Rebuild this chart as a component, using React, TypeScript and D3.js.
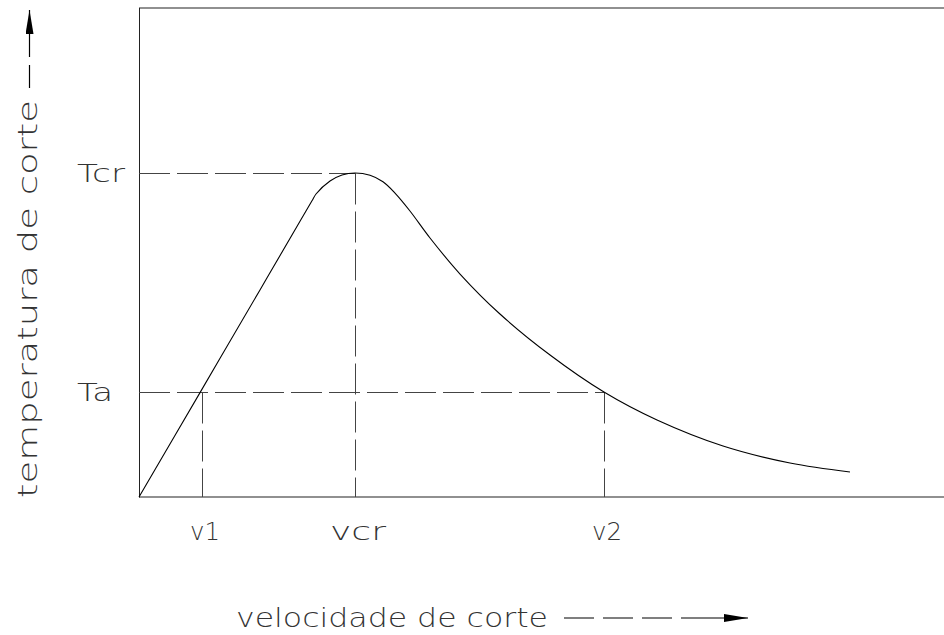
import React, { useEffect, useRef } from 'react';
import * as d3 from 'd3';

// curve points (velocity %, temperature %)
const velocity = [0, 7.58, 15.03, 20.0, 21.49, 21.99, 23.73, 25.22, 26.83, 28.7, 30.31, 31.8, 33.66, 36.15, 39.88, 44.84, 51.06, 57.76, 64.35, 72.55, 80.87, 88.32];
const temperature = [0, 21.35, 42.35, 56.38, 60.57, 61.96, 64.62, 65.85, 66.26, 65.79, 64.46, 62.15, 58.49, 52.97, 45.6, 37.42, 29.04, 21.47, 15.75, 10.43, 6.95, 5.11];

// reference marks
const vLabels = ['v1', 'vcr', 'v2'];
const vValues = [7.83, 26.83, 57.76];
const tLabels = ['Tcr', 'Ta'];
const tValues = [66.26, 21.47];

const xTitle = 'velocidade de corte';
const yTitle = 'temperatura de corte';

const FONT = '"DejaVu Sans", sans-serif';

const App = () => {
  const svgRef = useRef<SVGSVGElement>(null);

  useEffect(() => {
    const width = 944;
    const height = 635;
    const svg = d3.select(svgRef.current);
    svg.selectAll('*').remove();
    svg.attr('width', width).attr('height', height);

    const x = d3.scaleLinear().domain([0, 100]).range([139, 944]);
    const y = d3.scaleLinear().domain([0, 100]).range([497, 8]);

    const defs = svg.append('defs');
    defs.append('marker')
      .attr('id', 'head')
      .attr('viewBox', '0 0 24 8')
      .attr('refX', 24)
      .attr('refY', 4)
      .attr('markerWidth', 24)
      .attr('markerHeight', 8)
      .attr('markerUnits', 'userSpaceOnUse')
      .attr('orient', 'auto')
      .append('path')
      .attr('d', 'M0,0 L24,4 L0,8 Z')
      .attr('fill', '#000');

    // frame: left, bottom, top (right side open)
    svg.append('line')
      .attr('x1', x(0) + 0.5).attr('x2', x(0) + 0.5)
      .attr('y1', y(100)).attr('y2', y(0) + 0.5)
      .attr('stroke', '#222').attr('stroke-width', 1);
    svg.append('line')
      .attr('x1', x(0)).attr('x2', x(100))
      .attr('y1', y(0)).attr('y2', y(0))
      .attr('stroke', '#222').attr('stroke-width', 1.2);
    svg.append('line')
      .attr('x1', x(0)).attr('x2', x(100))
      .attr('y1', y(100)).attr('y2', y(100))
      .attr('stroke', '#222').attr('stroke-width', 1.2);

    // dashed guides
    const dash = '31 7';
    const vx = vValues.map(v => Math.round(x(v)) + 0.5);
    const ty = tValues.map(t => Math.round(y(t)) + 0.5);
    const guides = [
      [x(0), ty[0], vx[1], ty[0]],
      [x(0), ty[1], vx[2], ty[1]],
      [vx[1], ty[0], vx[1], y(0)],
      [vx[0], ty[1], vx[0], y(0)],
      [vx[2], ty[1], vx[2], y(0)],
    ];
    guides.forEach(([x1, y1, x2, y2]) => {
      svg.append('line')
        .attr('x1', x1).attr('y1', y1).attr('x2', x2).attr('y2', y2)
        .attr('stroke', '#444')
        .attr('stroke-width', 1)
        .attr('stroke-dasharray', dash);
    });

    // curve
    const pts = velocity.map((v, i) => [v, temperature[i]] as [number, number]);
    const line = d3.line<[number, number]>()
      .x(d => x(d[0]))
      .y(d => y(d[1]))
      .curve(d3.curveCatmullRom.alpha(0.5));
    svg.append('path')
      .datum(pts)
      .attr('fill', 'none')
      .attr('stroke', '#000')
      .attr('stroke-width', 1.1)
      .attr('d', line);

    // text style
    const txt = (sel: any) => sel
      .style('font-family', FONT)
      .style('font-weight', 200)
      .attr('fill', '#333');

    tLabels.forEach((t, i) => {
      svg.append('text')
        .attr('x', 77)
        .attr('y', y(tValues[i]) + 9)
        .attr('font-size', 25)
        .attr('textLength', t.length === 3 ? 48 : 36)
        .attr('lengthAdjust', 'spacingAndGlyphs')
        .text(t)
        .call(txt);
    });

    vLabels.forEach((v, i) => {
      svg.append('text')
        .attr('x', x(vValues[i]) + 3)
        .attr('y', 540)
        .attr('text-anchor', 'middle')
        .attr('font-size', 25)
        .attr('textLength', v.length === 3 ? 56 : 30)
        .attr('lengthAdjust', 'spacingAndGlyphs')
        .text(v)
        .call(txt);
    });

    // x title with arrow
    svg.append('text')
      .attr('x', 236)
      .attr('y', 627)
      .attr('font-size', 27)
      .attr('textLength', 312)
      .attr('lengthAdjust', 'spacingAndGlyphs')
      .text(xTitle)
      .call(txt);
    svg.append('line')
      .attr('x1', 564).attr('x2', 681).attr('y1', 618).attr('y2', 618)
      .attr('stroke', '#000').attr('stroke-width', 1.2)
      .attr('stroke-dasharray', '30 9');
    svg.append('line')
      .attr('x1', 681).attr('x2', 748).attr('y1', 618).attr('y2', 618)
      .attr('stroke', '#000').attr('stroke-width', 1.2)
      .attr('marker-end', 'url(#head)');

    // y title with arrow
    svg.append('text')
      .attr('transform', 'translate(37,498) rotate(-90)')
      .attr('font-size', 27)
      .attr('textLength', 398)
      .attr('lengthAdjust', 'spacingAndGlyphs')
      .text(yTitle)
      .call(txt);
    svg.append('line')
      .attr('x1', 29.5).attr('x2', 29.5).attr('y1', 88).attr('y2', 65)
      .attr('stroke', '#000').attr('stroke-width', 1.2);
    svg.append('line')
      .attr('x1', 29.5).attr('x2', 29.5).attr('y1', 57).attr('y2', 10)
      .attr('stroke', '#000').attr('stroke-width', 1.2)
      .attr('marker-end', 'url(#head)');
  }, []);

  return (
    <div style={{ position: 'absolute', left: 0, top: 0, background: '#fff' }}>
      <svg ref={svgRef} style={{ display: 'block' }}></svg>
    </div>
  );
};

export default App;
